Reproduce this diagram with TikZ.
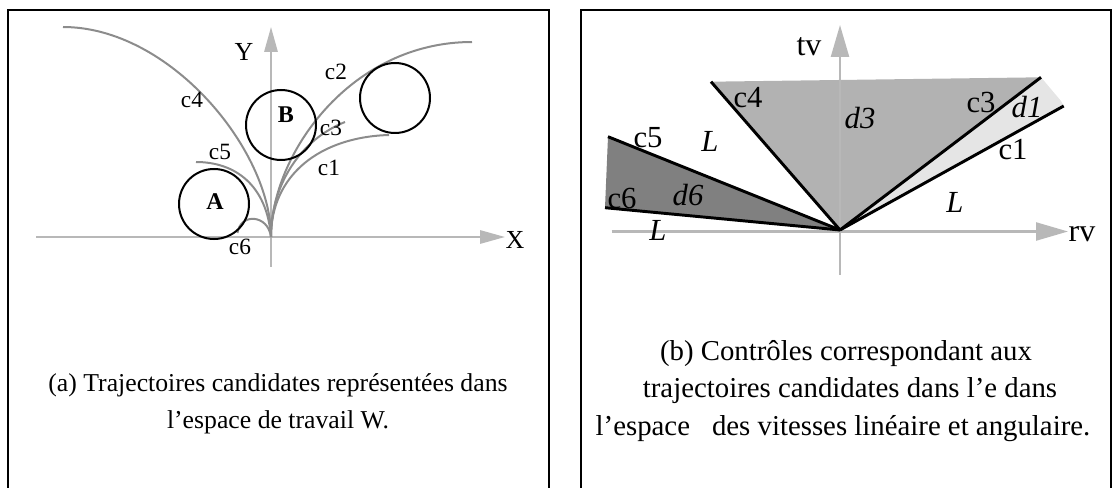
\documentclass[tikz,border=0pt]{standalone}
\usepackage{fontspec}
\setmainfont{Liberation Serif}
\usetikzlibrary{arrows.meta}
\definecolor{axisgray}{gray}{0.72}
\definecolor{curvegray}{gray}{0.55}
\definecolor{dthree}{gray}{0.70}
\definecolor{done}{gray}{0.90}
\definecolor{dsix}{gray}{0.50}
\begin{document}
\begin{tikzpicture}[x=0.75pt,y=-0.75pt,
  panel/.style={draw=black,line width=1.6pt},
  axisL/.style={draw=axisgray,line width=1.5pt,-{Triangle[length=18.75pt,width=10pt]}},
  axisR/.style={draw=axisgray,line width=1.8pt,-{Triangle[length=24pt,width=13.5pt]}},
  traj/.style={draw=curvegray,line width=1.5pt},
  obst/.style={draw=black,line width=1.5pt,circle,minimum size=52.5pt,inner sep=0pt},
  ctrl/.style={draw=black,line width=2.2pt},
  lblL/.style={font=\fontsize{17.5}{20}\selectfont,inner sep=0pt},
  lblAx/.style={font=\fontsize{19.5}{22}\selectfont,inner sep=0pt},
  lblR/.style={font=\fontsize{23}{26}\selectfont,inner sep=0pt},
  lblRi/.style={font=\fontsize{23}{26}\selectfont\itshape,inner sep=0pt},
  captext/.style={font=\fontsize{19.3}{28}\selectfont,anchor=base,inner sep=0pt},
  captextR/.style={font=\fontsize{21.6}{28}\selectfont,anchor=base,inner sep=0pt}]
\useasboundingbox (0,0) rectangle (1117,488);
% panels
\draw[panel] (8.3,495) -- (8.3,10) -- (549.3,10) -- (549.3,495);
\draw[panel] (581,495) -- (581,10) -- (1111,10) -- (1111,495);

% ---------- left panel ----------
\coordinate (O) at (271,237);
\coordinate (xs) at (36,237);
\coordinate (xe) at (505,237);
\coordinate (ys) at (271,267);
\coordinate (ye) at (271,27);
\draw[axisL] (xs) -- (xe);
\draw[axisL] (ys) -- (ye);
\node[lblAx] (X) at (515,240) {X};
\node[lblAx] (Y) at (244,52) {Y};

\coordinate (e4) at (63,27);
\coordinate (e2) at (472,42);
\coordinate (e3) at (345,122);
\coordinate (e1) at (389,135);
\coordinate (e5) at (196,162);
\coordinate (e6) at (237.5,233);
\draw[traj] (O) .. controls (271,150) and (170,27) .. (e4);
\draw[traj] (O) .. controls (271,155) and (350,42) .. (e2);
\draw[traj] (O) .. controls (271,185) and (300,140) .. (e3);
\draw[traj] (O) .. controls (271,175) and (320,137) .. (e1);
\draw[traj] (O) .. controls (267,185) and (235,162) .. (e5);
\draw[traj] (O) .. controls (268,214) and (240,213) .. (e6);

\node[obst] (A) at (214,204) {};
\node[obst] (B) at (281,125) {};
\node[obst] (C) at (395,98) {};
\node[lblL,font=\fontsize{18}{20}\selectfont\bfseries] (Al) at (215,202) {A};
\node[lblL,font=\fontsize{18}{20}\selectfont\bfseries] (Bl) at (286,115) {B};

\node[lblL] (c4l) at (192,100) {c4};
\node[lblL] (c2l) at (336,72) {c2};
\node[lblL] (c3l) at (331,128) {c3};
\node[lblL] (c1l) at (329,168) {c1};
\node[lblL] (c5l) at (220,152) {c5};
\node[lblL] (c6l) at (240,247) {c6};

% ---------- right panel ----------
\coordinate (P) at (840,230);
\coordinate (us) at (611.5,231.5);
\coordinate (ue) at (1068,231.5);
\coordinate (vs) at (840,275);
\coordinate (ve) at (840,25);
\coordinate (r4) at (711,81.7);
\coordinate (r3) at (1041,77.3);
\coordinate (rd) at (1061,101);
\coordinate (r1) at (1063.7,106);
\coordinate (r5) at (608,136.7);
\coordinate (r6) at (605,207.7);
\fill[dthree] (P) -- (r4) -- (r3) -- cycle;
\fill[done] (P) -- (r3) -- (rd) -- (r1) -- cycle;
\fill[dsix] (P) -- (r5) -- (r6) -- cycle;
\draw[axisR] (us) -- (ue);
\draw[axisR] (vs) -- (ve);
\draw[ctrl] (r4) -- (P);
\draw[ctrl] (r3) -- (P);
\draw[ctrl] (r1) -- (P);
\draw[ctrl] (r5) -- (P);
\draw[ctrl] (r6) -- (P);
\node[lblR,font=\fontsize{24}{26}\selectfont] (tv) at (809,47) {tv};
\node[lblR,font=\fontsize{24}{26}\selectfont] (rv) at (1082,234) {rv};

\node[lblR] (k4) at (748,98) {c4};
\node[lblRi] (d3) at (860,118) {d3};
\node[lblR] (k3) at (981,103) {c3};
\node[lblRi] (d1) at (1027,107) {d1};
\node[lblR] (k5) at (648,138) {c5};
\node[lblRi] (L1) at (710,141) {L};
\node[lblR] (k1) at (1013,150) {c1};
\node[lblRi] (d6) at (688,195) {d6};
\node[lblR] (k6) at (622,198) {c6};
\node[lblRi] (L2) at (955,202) {L};
\node[lblRi] (L3) at (658,230) {L};

% ---------- captions ----------
\node[captext] (ca1) at (278,391) {(a) Trajectoires candidates représentées dans};
\node[captext] (ca2) at (278,428) {l’espace de travail W.};
\node[captextR] (cb1) at (846,360) {(b) Contrôles correspondant aux};
\node[captextR] (cb2) at (850,397) {trajectoires candidates dans l’e dans};
\node[captextR] (cb3) at (843,435) {l’espace\hspace{16.5pt}des vitesses linéaire et angulaire.};
\end{tikzpicture}
\end{document}
